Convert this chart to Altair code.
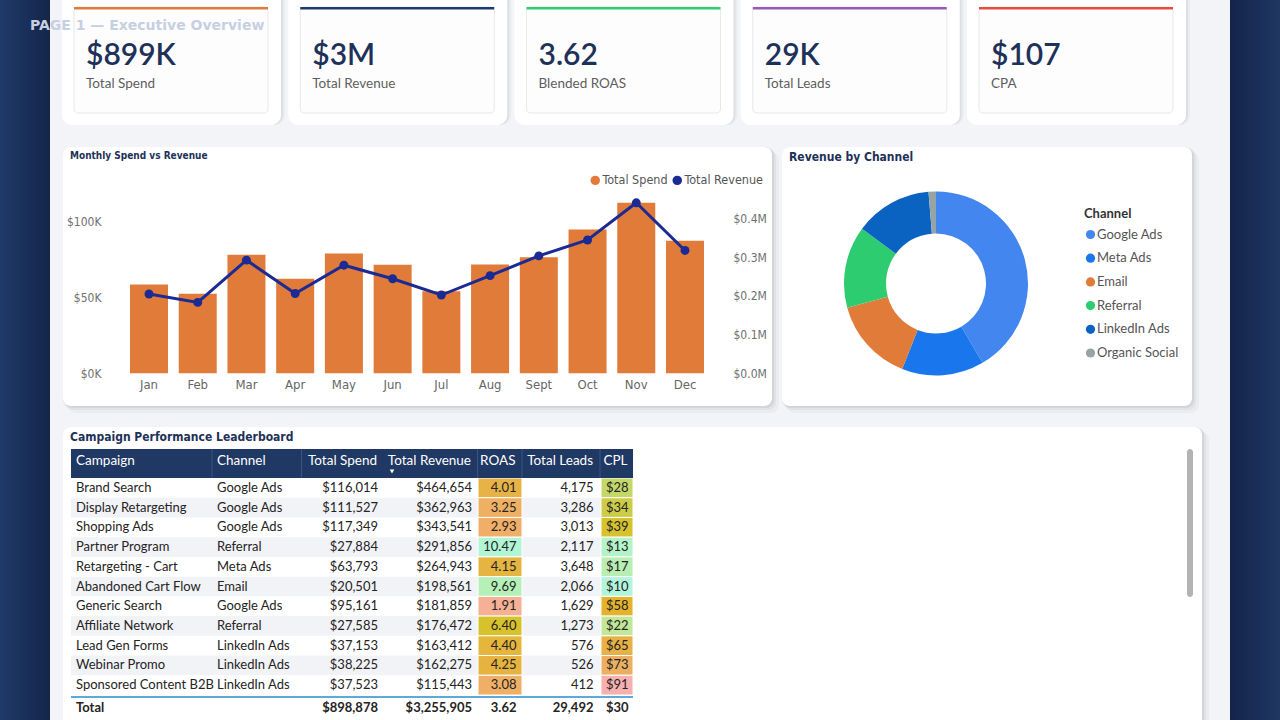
import altair as alt
import pandas as pd

# ---------------- data ----------------
kpi_labels = ["Total Spend", "Total Revenue", "Blended ROAS", "Total Leads", "CPA"]
kpi_values = ["$899K", "$3M", "3.62", "29K", "$107"]

months = ["Jan", "Feb", "Mar", "Apr", "May", "Jun", "Jul", "Aug", "Sept", "Oct", "Nov", "Dec"]
monthly_spend = [58600, 52500, 78200, 62400, 79100, 71600, 54200, 71800, 76600, 94900, 112500, 87400]
monthly_revenue = [204600, 183000, 292000, 206000, 279000, 244000, 202000, 252000, 303000, 344000, 440000, 317000]

channels = ["Google Ads", "Meta Ads", "Email", "Referral", "LinkedIn Ads", "Organic Social"]
channel_revenue = [1353017, 470000, 481000, 468328, 441130, 42430]

campaigns = ["Brand Search", "Display Retargeting", "Shopping Ads", "Partner Program",
             "Retargeting - Cart", "Abandoned Cart Flow", "Generic Search", "Affiliate Network",
             "Lead Gen Forms", "Webinar Promo", "Sponsored Content B2B"]
campaign_channel = ["Google Ads", "Google Ads", "Google Ads", "Referral", "Meta Ads", "Email",
                    "Google Ads", "Referral", "LinkedIn Ads", "LinkedIn Ads", "LinkedIn Ads"]
camp_spend = [116014, 111527, 117349, 27884, 63793, 20501, 95161, 27585, 37153, 38225, 37523]
camp_revenue = [464654, 362963, 343541, 291856, 264943, 198561, 181859, 176472, 163412, 162275, 115443]
camp_roas = [4.01, 3.25, 2.93, 10.47, 4.15, 9.69, 1.91, 6.40, 4.40, 4.25, 3.08]
camp_leads = [4175, 3286, 3013, 2117, 3648, 2066, 1629, 1273, 576, 526, 412]
camp_cpl = [28, 34, 39, 13, 17, 10, 58, 22, 65, 73, 91]

total_spend = 898878
total_revenue = 3255905
total_roas = 3.62
total_leads = 29492
total_cpl = 30

table_headers = ["Campaign", "Channel", "Total Spend", "Total Revenue", "ROAS", "Total Leads", "CPL"]

# ---------------- styles ----------------
BODY = "Segoe UI, Lato, Noto Sans, sans-serif"
COND = "DejaVu Sans Condensed, Liberation Sans Narrow, Roboto Condensed, Roboto, sans-serif"
NAVY = "#1f3864"
TITLE_NAVY = "#1e3158"
ORANGE = "#e07b39"
LINE_BLUE = "#1b2b93"
TEXT = "#252423"
kpi_accents = ["#e07b39", "#1f3a6e", "#2ecc71", "#9b59b6", "#e74c3c"]
channel_colors = ["#4386ef", "#1a76ec", "#e07b39", "#2ecc71", "#0b63c1", "#95a5a6"]
roas_stops = [1.91, 2.93, 3.25, 4.2, 6.4, 9.69, 10.47]
roas_colors = ["#f6b095", "#f0ae68", "#efb064", "#e6b43e", "#d6c22a", "#b4f0b8", "#b0f5d4"]
cpl_stops = [10, 13, 22, 28, 39, 58, 73, 91]
cpl_colors = ["#b0f5dc", "#b4f2c8", "#c0e898", "#c4d86a", "#d5c22c", "#e5b22e", "#ecaf62", "#f7b0b0"]

one = pd.DataFrame({"k": [0]})


def box(x, x2, y, y2, **mk):
    return alt.Chart(one).mark_rect(**mk).encode(
        x=alt.value(x), x2=alt.value(x2), y=alt.value(y), y2=alt.value(y2))


def card(x, x2, y, y2, r=8):
    out = []
    for d, op in [(2, 0.06), (4, 0.04), (7, 0.03)]:
        out.append(box(x + d - 2, x2 + d, y + d - 2, y2 + d, color="#000000", opacity=op, cornerRadius=r))
    out.append(box(x, x2, y, y2, color="#ffffff", cornerRadius=r))
    return out


def label(txt, x, y, size, color, weight="normal", font=BODY, align="left"):
    return alt.Chart(one).mark_text(
        text=txt, align=align, baseline="middle", font=font, fontSize=size,
        fontWeight=weight, color=color).encode(x=alt.value(x), y=alt.value(y))


layers = []

# ---------------- page background ----------------
layers.append(box(0, 50, 0, 720, color=alt.LinearGradient(
    gradient="linear", x1=0, x2=1, y1=0, y2=0,
    stops=[alt.GradientStop(color="#20396a", offset=0), alt.GradientStop(color="#14264a", offset=1)])))
layers.append(box(1230, 1280, 0, 720, color=alt.LinearGradient(
    gradient="linear", x1=0, x2=1, y1=0, y2=0,
    stops=[alt.GradientStop(color="#13244a", offset=0), alt.GradientStop(color="#1f3763", offset=1)])))
layers.append(box(50, 1230, 0, 720, color="#f3f4f8"))

# ---------------- KPI cards ----------------
kpi = pd.DataFrame({"label": kpi_labels, "value": kpi_values})
outer_x = alt.X("label:N", axis=None, scale=alt.Scale(
    type="band", domain=kpi_labels, range=[62, 1186], paddingInner=0.032, paddingOuter=0))
inner_x = alt.X("label:N", axis=None, scale=alt.Scale(
    type="band", domain=kpi_labels, range=[74, 1173], paddingInner=0.1425, paddingOuter=0))
text_x = alt.X("label:N", axis=None, scale=alt.Scale(
    type="point", domain=kpi_labels, range=[86, 991], padding=0))

for d, op in [(2, 0.05), (4, 0.03)]:
    layers.append(alt.Chart(kpi).mark_rect(color="#000000", opacity=op, cornerRadius=10,
                                           xOffset=d, yOffset=d).encode(
        x=outer_x, y=alt.value(-12), y2=alt.value(125)))
layers.append(alt.Chart(kpi).mark_rect(color="#ffffff", cornerRadius=10).encode(
    x=outer_x, y=alt.value(-12), y2=alt.value(125)))
layers.append(alt.Chart(kpi).mark_rect(color="#fdfdfe", stroke="#e7e8ec", strokeWidth=1, cornerRadius=4).encode(
    x=inner_x, y=alt.value(7), y2=alt.value(113)))
layers.append(alt.Chart(kpi).mark_rect().encode(
    x=inner_x, y=alt.value(7), y2=alt.value(9.5),
    color=alt.Color("label:N", scale=alt.Scale(domain=kpi_labels, range=kpi_accents), legend=None)))
layers.append(alt.Chart(kpi).mark_text(align="left", baseline="middle", font=BODY, fontSize=30,
                                       fontWeight=600, color=TITLE_NAVY).encode(
    x=text_x, y=alt.value(55.5), text="value:N"))
layers.append(alt.Chart(kpi).mark_text(align="left", baseline="middle", font=BODY, fontSize=13.5,
                                       color="#605e5c").encode(
    x=text_x, y=alt.value(83.5), text="label:N"))

# ---------------- Monthly Spend vs Revenue ----------------
layers += card(63, 772, 147, 406)
layers.append(label("Monthly Spend vs Revenue", 70, 156, 10, TITLE_NAVY, "bold", COND))

monthly = pd.DataFrame({"month": months, "spend": monthly_spend, "revenue": monthly_revenue})
month_x = alt.X("month:N", sort=months, title=None, axis=None,
                scale=alt.Scale(type="band", domain=months, range=[130, 704], paddingInner=0.22, paddingOuter=0))
bars = alt.Chart(monthly).transform_calculate(series="'Total Spend'").mark_bar().encode(
    x=month_x,
    y=alt.Y("spend:Q", title=None,
            scale=alt.Scale(domain=[0, 120000], range=[373.3, 373.3 - 1.516 * 120], nice=False, zero=True),
            axis=alt.Axis(orient="left", offset=-105, values=[0, 50000, 100000],
                          labelExpr="'$' + format(datum.value / 1000, '.0f') + 'K'",
                          domain=False, ticks=False, tickSize=0, grid=False, labelPadding=4,
                          labelFont=COND, labelFontSize=12, labelColor="#6f6f6f", zindex=2)),
    color=alt.Color("series:N", scale=alt.Scale(domain=["Total Spend", "Total Revenue"], range=[ORANGE, LINE_BLUE]),
                    legend=alt.Legend(orient="none", legendX=589, legendY=174, direction="horizontal", title=None,
                                      symbolType="circle", symbolSize=90, symbolStrokeWidth=0,
                                      labelFont=COND, labelFontSize=12.5, labelColor="#555555",
                                      labelOffset=1, columnPadding=3)))
line = alt.Chart(monthly).mark_line(
    color=LINE_BLUE, strokeWidth=3,
    point=alt.OverlayMarkDef(filled=True, size=80, color=LINE_BLUE)).encode(
    x=month_x,
    y=alt.Y("revenue:Q", title=None,
            scale=alt.Scale(domain=[0, 450000], range=[373.3, 373.3 - 0.3875 * 450], nice=False, zero=True),
            axis=alt.Axis(orient="right", offset=729 - 1280, values=[0, 100000, 200000, 300000, 400000],
                          labelExpr="'$' + format(datum.value / 1000000, '.1f') + 'M'",
                          domain=False, ticks=False, tickSize=0, grid=False, labelPadding=4,
                          labelFont=COND, labelFontSize=12, labelColor="#6f6f6f", zindex=2)))
# month tick labels placed through the same band scale
month_labels = alt.Chart(monthly).mark_text(
    align="center", baseline="middle", font=COND, fontSize=13, color="#666666").encode(
    x=month_x, y=alt.value(384.5), text="month:N")
layers.append(alt.layer(bars, line, month_labels).resolve_scale(y="independent"))

# ---------------- Revenue by Channel ----------------
layers += card(782, 1192, 147, 406)
layers.append(label("Revenue by Channel", 789, 157, 12, TITLE_NAVY, "bold", COND))
chan = pd.DataFrame({"channel": channels, "revenue": channel_revenue, "idx": list(range(len(channels)))})
layers.append(alt.Chart(chan).mark_arc(innerRadius=50, outerRadius=92).encode(
    theta=alt.Theta("revenue:Q", stack=True),
    order=alt.Order("idx:Q"),
    x=alt.value(936), y=alt.value(283.5),
    color=alt.Color("channel:N", scale=alt.Scale(domain=channels, range=channel_colors),
                    legend=alt.Legend(orient="none", legendX=1084, legendY=208, title="Channel",
                                      titleFont=BODY, titleFontSize=13, titleFontWeight="bold",
                                      titleColor="#333333", titlePadding=7,
                                      symbolType="circle", symbolSize=85, symbolStrokeWidth=0,
                                      labelFont=BODY, labelFontSize=13, labelColor="#555555",
                                      labelOffset=0, rowPadding=9.7))))

# ---------------- Campaign Performance Leaderboard ----------------
layers += card(63, 1202, 427, 745)
layers.append(label("Campaign Performance Leaderboard", 70, 437, 12, TITLE_NAVY, "bold", COND))
layers.append(box(1187, 1193, 449, 597, color="#b3b3b3", cornerRadius=3))

table = pd.DataFrame({"campaign": campaigns, "channel": campaign_channel, "spend": camp_spend,
                      "revenue": camp_revenue, "roas": camp_roas, "leads": camp_leads, "cpl": camp_cpl,
                      "idx": list(range(len(campaigns)))})
row_scale = alt.Scale(type="band", domain=campaigns, range=[478, 695], paddingInner=0, paddingOuter=0)
rows_y = alt.Y("campaign:N", scale=row_scale, axis=None, title=None)

layers.append(alt.Chart(table).transform_filter("datum.idx % 2 == 1").mark_rect(color="#f2f3f7").encode(
    x=alt.value(71), x2=alt.value(633), y=rows_y))
layers.append(alt.Chart(table).mark_rect(stroke="#ffffff", strokeWidth=1).encode(
    x=alt.value(478), x2=alt.value(522), y=rows_y,
    color=alt.Color("roas:Q", legend=None,
                    scale=alt.Scale(domain=roas_stops, range=roas_colors, interpolate="rgb"))))
layers.append(alt.Chart(table).mark_rect(stroke="#ffffff", strokeWidth=1).encode(
    x=alt.value(601), x2=alt.value(633), y=rows_y,
    color=alt.Color("cpl:Q", legend=None,
                    scale=alt.Scale(domain=cpl_stops, range=cpl_colors, interpolate="rgb"))))

# header
layers.append(box(71, 633, 449, 478, color=NAVY))
for xd in [212, 301.5, 477.5, 522, 600]:
    layers.append(alt.Chart(one).mark_rule(color="#3a5584", strokeWidth=1).encode(
        x=alt.value(xd), y=alt.value(449), y2=alt.value(478)))
header_pos = [(76, "left"), (217, "left"), (377, "right"), (471, "right"), (515.5, "right"), (593, "right"), (627.5, "right")]
for name, (hx, ha) in zip(table_headers, header_pos):
    layers.append(label(name, hx, 461, 13.5, "#ffffff", "normal", BODY, ha))
layers.append(alt.Chart(one).mark_point(shape="triangle-down", filled=True, color="#ffffff", size=22, opacity=1).encode(
    x=alt.value(392), y=alt.value(471.5)))

# body columns
cols = [("campaign:N", 76, "left", None), ("channel:N", 217, "left", None),
        ("spend:Q", 378, "right", "$,.0f"), ("revenue:Q", 472, "right", "$,.0f"),
        ("roas:Q", 516.5, "right", ".2f"), ("leads:Q", 593.5, "right", ",.0f"),
        ("cpl:Q", 628.5, "right", "$,.0f")]
for field, cx, ca, fmt in cols:
    txt = alt.Text(field, format=fmt) if fmt else alt.Text(field)
    layers.append(alt.Chart(table).mark_text(align=ca, baseline="middle", font=BODY, fontSize=13,
                                             color=TEXT).encode(
        x=alt.value(cx), y=rows_y, text=txt))

# totals
layers.append(alt.Chart(one).mark_rule(color="#5fa8da", strokeWidth=2).encode(
    x=alt.value(71), x2=alt.value(633), y=alt.value(697)))
totals = pd.DataFrame({"spend": [total_spend], "revenue": [total_revenue], "roas": [total_roas],
                       "leads": [total_leads], "cpl": [total_cpl]})
layers.append(label("Total", 76, 708, 13, TEXT, "bold"))
for field, cx, ca, fmt in cols[2:]:
    layers.append(alt.Chart(totals).mark_text(align=ca, baseline="middle", font=BODY, fontSize=13,
                                              fontWeight="bold", color=TEXT).encode(
        x=alt.value(cx), y=alt.value(708), text=alt.Text(field, format=fmt)))

# page title (drawn on top)
layers.append(label("PAGE 1 \u2014 Executive Overview", 30, 25.5, 14, "#c6d0e1", "bold", "DejaVu Sans"))

chart = alt.layer(*layers).resolve_scale(
    x="independent", y="independent", color="independent"
).properties(
    width=1280, height=720, padding=0,
    autosize=alt.AutoSizeParams(type="none"),
    background="#1b3159",
).configure_view(stroke=None)

chart.save("out.html", embed_options={"renderer": "svg", "actions": False})
